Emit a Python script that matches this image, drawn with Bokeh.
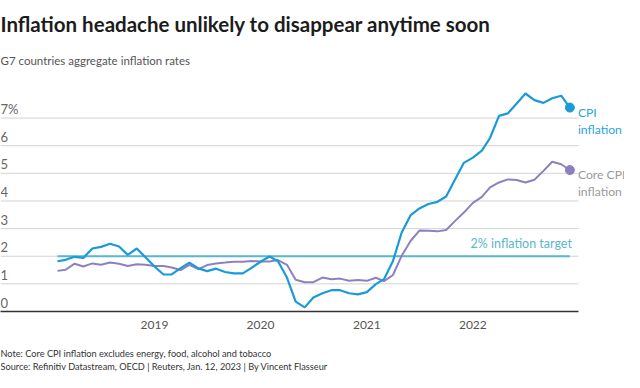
from datetime import datetime, timedelta
import pandas as pd
from bokeh.plotting import figure
from bokeh.layouts import column
from bokeh.models import Range1d, FixedTicker, ColumnDataSource, DatetimeTickFormatter
from bokeh.core.properties import value
from bokeh.embed import file_html
from bokeh.resources import INLINE

# ---------------- data ----------------
months = pd.date_range("2018-02-01", "2022-12-01", freq="MS")

cpi = [1.82, 1.87, 1.98, 1.94, 2.28, 2.34, 2.45, 2.35, 2.05, 2.28,
       1.96, 1.63, 1.34, 1.34, 1.57, 1.77, 1.56, 1.46, 1.55, 1.43,
       1.38, 1.38, 1.58, 1.80, 1.99, 1.82, 1.23, 0.36, 0.15, 0.51,
       0.66, 0.77, 0.77, 0.66, 0.62, 0.70, 0.99, 1.17, 1.83, 2.86,
       3.49, 3.73, 3.89, 3.97, 4.16, 4.79, 5.38, 5.57, 5.82, 6.28,
       7.08, 7.17, 7.53, 7.89, 7.65, 7.55, 7.72, 7.81, 7.38]

core = [1.47, 1.51, 1.73, 1.63, 1.74, 1.69, 1.77, 1.73, 1.65, 1.71,
        1.69, 1.65, 1.65, 1.59, 1.50, 1.69, 1.53, 1.68, 1.74, 1.77,
        1.80, 1.80, 1.83, 1.81, 1.81, 1.86, 1.69, 1.15, 1.06, 1.06,
        1.23, 1.17, 1.19, 1.11, 1.14, 1.11, 1.22, 1.10, 1.32, 2.02,
        2.56, 2.93, 2.92, 2.90, 2.95, 3.28, 3.58, 3.93, 4.15, 4.49,
        4.67, 4.78, 4.76, 4.67, 4.77, 5.09, 5.42, 5.33, 5.12]

target = 2.0
target_label = "2% inflation target"
cpi_label = ["CPI", "inflation"]
core_label = ["Core CPI", "inflation"]

y_ticks = [0, 1, 2, 3, 4, 5, 6, 7]
y_tick_labels = ["0", "1", "2", "3", "4", "5", "6", "7%"]
x_tick_years = [2019, 2020, 2021, 2022]

title = "Inflation headache unlikely to disappear anytime soon"
subtitle = "G7 countries aggregate inflation rates"
note = "Note: Core CPI inflation excludes energy, food, alcohol and tobacco"
source = "Source: Refinitiv Datastream, OECD | Reuters, Jan. 12, 2023 | By Vincent Flasseur"

# ---------------- style / layout ----------------
FONT = "Lato"
CPI_C = "#1a9bd7"
CORE_C = "#8e80c0"
TARGET_C = "#5cb8c9"
GRID_C = "#d2d2d2"

W = 624
TOP_H, FRAME_H, AXIS_PANEL, FOOT_H = 76, 235, 28, 33
MAIN_H = FRAME_H + AXIS_PANEL
PX_PER_DAY = 106.1 / 365.25      # horizontal scale
PX_PER_UNIT = 27.63              # vertical scale
TICK0_PX = 154                   # position of Jan 2019 from the left edge
GRID_END_PX = 578                # where gridlines / axis stop


def blank(height):
    f = figure(width=W, height=height, x_range=Range1d(0, W), y_range=Range1d(height, 0),
               x_axis_location=None, y_axis_location=None, output_backend="svg",
               toolbar_location=None, min_border=0)
    f.outline_line_color = None
    f.grid.visible = False
    return f


# ---- title block ----
top = blank(TOP_H)
top.text(x=[0], y=[23], text=[title], text_font=value(FONT), text_font_size="20.5px",
         text_font_style="bold", text_color="#1c1c1c", text_baseline="middle")
top.text(x=[0], y=[60], text=[subtitle], text_font=value(FONT), text_font_size="11.5px",
         text_color="#555555", text_baseline="middle")

# ---- main chart ----
x0 = datetime(2019, 1, 1) - timedelta(days=TICK0_PX / PX_PER_DAY)
x1 = x0 + timedelta(days=W / PX_PER_DAY)
grid_end = x0 + timedelta(days=GRID_END_PX / PX_PER_DAY)

p = figure(width=W, height=MAIN_H, x_axis_type="datetime", y_axis_location=None,
           x_range=Range1d(x0, x1), y_range=Range1d(0, FRAME_H / PX_PER_UNIT),
           output_backend="svg", toolbar_location=None,
           min_border_left=0, min_border_right=0, min_border_top=0,
           min_border_bottom=AXIS_PANEL)
p.outline_line_color = None
p.grid.visible = False

xa = p.xaxis[0]
xa.ticker = FixedTicker(ticks=[datetime(y, 1, 1).timestamp() * 1000 for y in x_tick_years])
xa.formatter = DatetimeTickFormatter(years="%Y", months="%Y", days="%Y", hours="%Y")
xa.bounds = (x0, grid_end)
xa.major_tick_line_color = None
xa.minor_tick_line_color = None
xa.major_tick_out = 0
xa.major_tick_in = 0
xa.axis_line_color = "#333333"
xa.axis_line_width = 1.5
xa.major_label_standoff = 9
xa.major_label_text_font = FONT
xa.major_label_text_font_size = "12px"
xa.major_label_text_color = "#555555"

# horizontal gridlines (stop short of the right-hand labels)
gy = y_ticks[1:]
p.segment(x0=[x0] * len(gy), x1=[grid_end] * len(gy), y0=gy, y1=gy,
          line_color=GRID_C, line_width=1)

# y tick labels sitting above their gridlines
ysrc = ColumnDataSource(dict(x=[x0] * len(y_ticks), y=y_ticks, t=y_tick_labels))
p.text(x="x", y="y", text="t", source=ysrc, text_font=value(FONT), text_font_size="13px",
       text_color="#666666", text_baseline="middle", text_align="left", y_offset=-9)

# target line
p.line(x=[months[0], months[-1]], y=[target, target], line_color=TARGET_C, line_width=2)
p.text(x=[months[-1]], y=[target], text=[target_label], text_font=value(FONT),
       text_font_size="12.5px", text_color=TARGET_C, text_align="right",
       text_baseline="middle", x_offset=2, y_offset=-12.5)

# series
p.line(x=months, y=core, line_color=CORE_C, line_width=2)
p.line(x=months, y=cpi, line_color=CPI_C, line_width=2.2)
p.scatter(x=[months[-1]], y=[core[-1]], size=9, color=CORE_C)
p.scatter(x=[months[-1]], y=[cpi[-1]], size=9, color=CPI_C)

for vals, names, col in [(cpi, cpi_label, "#2aa3dc"), (core, core_label, "#9a9a9a")]:
    src = ColumnDataSource(dict(x=[months[-1]] * 2, y=[vals[-1]] * 2, t=names, off=[4.5, 21.5]))
    p.text(x="x", y="y", text="t", y_offset="off", source=src, x_offset=8,
           text_font=value(FONT), text_font_size="12.2px", text_color=col,
           text_baseline="middle", text_align="left")

# ---- footer ----
foot = blank(FOOT_H)
foot.text(x=[0, 0], y=[14, 26.5], text=[note, source], text_font=value(FONT),
          text_font_size="9.2px", text_color="#333333", text_baseline="middle")

layout = column(top, p, foot, spacing=0)
open("out.html", "w").write(file_html(layout, INLINE))
